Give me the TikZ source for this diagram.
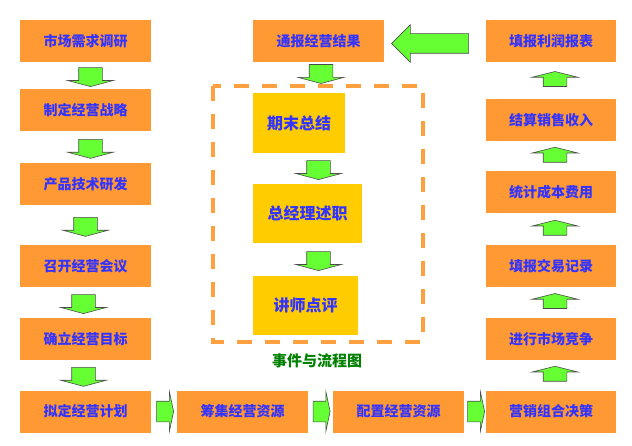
\documentclass[tikz,border=0pt]{standalone}
\usepackage{fontspec}
\setmainfont{Noto Sans CJK SC}
\usetikzlibrary{shapes.arrows,calc}
\definecolor{boxorange}{HTML}{FF9933}
\definecolor{evyellow}{HTML}{FFCC00}
\definecolor{txtblue}{HTML}{3333FF}
\definecolor{capgreen}{HTML}{008000}
\definecolor{arrgreen}{HTML}{66FF33}
\definecolor{frameorange}{HTML}{FFA040}
\tikzset{
	stage/.style={rectangle,fill=boxorange,text=txtblue,font=\bfseries\fontsize{14}{14}\selectfont,minimum width=131pt,minimum height=42pt,inner sep=0pt},
	event/.style={stage,fill=evyellow,font=\bfseries\fontsize{16}{16}\selectfont,minimum height=59pt},
	blockarr/.style={single arrow,fill=arrgreen,draw=black!70,line width=0.6pt,inner xsep=0pt,single arrow head indent=0pt},
	downarr/.style={blockarr,rotate=-90,inner ysep=11.5pt,minimum height=19pt,single arrow head extend=11pt,single arrow tip angle=150},
	uparr/.style={blockarr,rotate=90,inner ysep=11.5pt,minimum height=15pt,single arrow head extend=11pt,single arrow tip angle=152},
	rightarr/.style={blockarr,inner ysep=10pt,minimum height=17pt,single arrow head extend=9.5pt,single arrow tip angle=156}
}

\begin{document}
\begin{tikzpicture}[x=1pt,y=-1pt]
	\useasboundingbox (0,0) rectangle (632,446);
	% left column
	\node[stage] (mkt) at (85.5,41) {市场需求调研};
	\node[stage] (strat) at (85.5,110) {制定经营战略};
	\node[stage] (rnd) at (85.5,184.5) {产品技术研发};
	\node[stage] (meet) at (85.5,266) {召开经营会议};
	\node[stage] (goal) at (85.5,339) {确立经营目标};
	\node[stage] (plan) at (85.5,411.5) {拟定经营计划};
	% bottom row
	\node[stage] (fund) at (242.5,411.5) {筹集经营资源};
	\node[stage] (alloc) at (398.5,411.5) {配置经营资源};
	\node[stage,minimum width=130pt] (mix) at (551,411.5) {营销组合决策};
	% right column
	\node[stage,minimum width=130pt] (comp) at (551,339) {进行市场竞争};
	\node[stage,minimum width=130pt] (trade) at (551,266) {填报交易记录};
	\node[stage,minimum width=130pt] (cost) at (551,192.5) {统计成本费用};
	\node[stage,minimum width=130pt] (sales) at (551,120) {结算销售收入};
	\node[stage,minimum width=130pt] (profit) at (551,41) {填报利润报表};
	% middle
	\node[stage] (report) at (318.5,41) {通报经营结果};
	\node[event,minimum width=92pt,minimum height=60pt] (review) at (299,123) {期末总结};
	\node[event,minimum width=109pt] (speech) at (307.5,213.5) {总经理述职};
	\node[event,minimum width=105pt] (comment) at (305.5,305.5) {讲师点评};
	\draw[frameorange,line width=3.5pt,dash pattern=on 15pt off 13pt] (213,86) rectangle (423,342);
	\node[text=capgreen,font=\bfseries\fontsize{15}{15}\selectfont] (cap) at (317,361) {事件与流程图};

	\node[downarr] (a1) at ($(mkt.south)!0.5!(strat.north)+(5,0)$) {};
	\node[downarr] (a2) at ($(strat.south)!0.5!(rnd.north)+(5,0)$) {};
	\node[downarr] (a3) at ($(rnd.south)!0.5!(meet.north)$) {};
	\node[downarr] (a4) at ($(meet.south)!0.5!(goal.north)+(-2,0)$) {};
	\node[downarr] (a5) at ($(goal.south)!0.5!(plan.north)+(-2,0)$) {};
	\node[rightarr] (a6) at ($(plan.east)!0.5!(fund.west)$) {};
	\node[rightarr] (a7) at ($(fund.east)!0.5!(alloc.west)$) {};
	\node[rightarr] (a8) at ($(alloc.east)!0.5!(mix.west)$) {};
	\node[uparr] (a9) at ($(mix.north)!0.5!(comp.south)+(4,0)$) {};
	\node[uparr] (a10) at ($(comp.north)!0.5!(trade.south)+(4,0)$) {};
	\node[uparr] (a11) at ($(trade.north)!0.5!(cost.south)+(4,0)$) {};
	\node[uparr] (a12) at ($(cost.north)!0.5!(sales.south)+(4,0)$) {};
	\node[uparr] (a13) at ($(sales.north)!0.5!(profit.south)+(4,0)$) {};
	\node[blockarr,rotate=180,inner ysep=9.5pt,minimum height=77pt,single arrow head extend=9pt] (back) at ($(report.east)!0.5!(profit.west)+(0,2.5)$) {};
	\node[downarr,anchor=tail] (a14) at ($(report.south)+(2.5,2)$) {};
	\coordinate (m1) at ($(review.south)!0.5!(speech.north)$);
	\coordinate (m2) at ($(speech.south)!0.5!(comment.north)$);
	\node[downarr] (a15) at (report |- m1) {};
	\node[downarr] (a16) at (report |- m2) {};
\end{tikzpicture}
\end{document}
